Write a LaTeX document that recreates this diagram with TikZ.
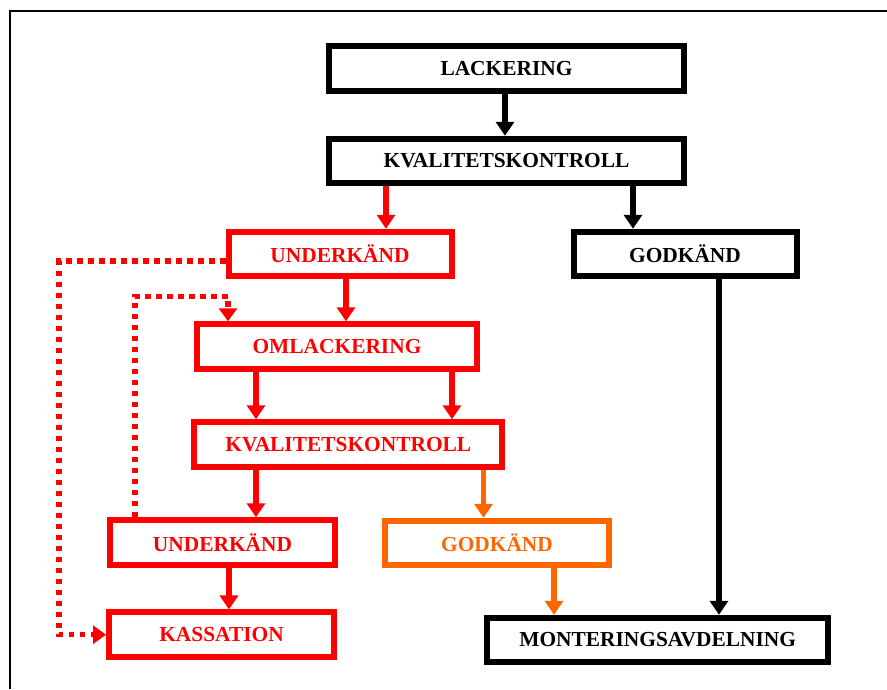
\documentclass[tikz,border=0pt]{standalone}
\usepackage{fontspec}
\setmainfont{Liberation Serif}
\usetikzlibrary{arrows.meta,calc}
\definecolor{flowred}{RGB}{255,0,0}
\definecolor{floworange}{RGB}{255,102,0}
\begin{document}
\begin{tikzpicture}[x=1pt,y=-1pt,
  box/.style={draw, line width=6pt, minimum height=44.5pt, inner sep=0pt,
    fill=white, font=\fontsize{21.4}{25}\selectfont\bfseries},
  blackbox/.style={box, draw=black, text=black},
  redbox/.style={box, draw=flowred, text=flowred},
  orangebox/.style={box, draw=floworange, text=floworange},
  link/.style={line width=5.5pt, -{Triangle[width=18pt,length=14pt]}},
  blacklink/.style={link, draw=black},
  redlink/.style={link, draw=flowred},
  orangelink/.style={link, draw=floworange},
  dotlink/.style={redlink, dash pattern=on 5.5pt off 5.5pt,
    -{Triangle[width=18pt,length=13pt]}},
]
\useasboundingbox (0,0) rectangle (887,689);
% outer frame
\draw[line width=2pt] (10,689) -- (10,11) -- (887,11);

% process steps
\node[blackbox, minimum width=355pt] (lack) at (506.5,68.5) {LACKERING};
\node[blackbox, minimum width=355pt] (kk1) at (506.5,161) {KVALITETSKONTROLL};
\node[redbox, minimum width=223pt] (u1) at (340,254) {UNDERKÄND};
\node[blackbox, minimum width=223pt] (g1) at (685,254) {GODKÄND};
\node[redbox, minimum width=280pt] (oml) at (337,346.5) {OMLACKERING};
\node[redbox, minimum width=308pt] (kk2) at (348.3,444.5) {KVALITETSKONTROLL};
\node[redbox, minimum width=225pt] (u2) at (222.5,542.5) {UNDERKÄND};
\node[orangebox, minimum width=224pt] (g2) at (497,543) {GODKÄND};
\node[redbox, minimum width=225pt] (kass) at (221.5,634.7) {KASSATION};
\node[blackbox, minimum width=341pt] (mont) at (657.7,640) {MONTERINGSAVDELNING};

% main flow
\draw[blacklink] ([xshift=-1.5pt]lack.south) -- ([xshift=-1.5pt]lack.south |- kk1.north);
\draw[redlink] ([xshift=-120.5pt]kk1.south) -- ([xshift=-120.5pt]kk1.south |- u1.north);
\draw[blacklink] ([xshift=126.5pt]kk1.south) -- ([xshift=126.5pt]kk1.south |- g1.north);
\draw[redlink] ([xshift=6pt]u1.south) -- ([xshift=6pt]u1.south |- oml.north);
\draw[redlink] ([xshift=-81pt]oml.south) -- ([xshift=-81pt]oml.south |- kk2.north);
\draw[redlink] ([xshift=115pt]oml.south) -- ([xshift=115pt]oml.south |- kk2.north);
\draw[redlink] ([xshift=-92.3pt]kk2.south) -- ([xshift=-92.3pt]kk2.south |- u2.north);
\draw[orangelink] ([xshift=135.2pt]kk2.south) -- ([xshift=135.2pt]kk2.south |- g2.north);
\draw[redlink] ([xshift=6.5pt]u2.south) -- ([xshift=6.5pt]u2.south |- kass.north);
\draw[orangelink] ([xshift=57pt]g2.south) -- ([xshift=57pt]g2.south |- mont.north);
\draw[blacklink] ([xshift=34pt]g1.south) -- ([xshift=34pt]g1.south |- mont.north);

% return loops
\draw[dotlink] ([xshift=-87.5pt]u2.north) |- ([xshift=-109pt,yshift=25pt]oml.north)
  -- ([xshift=-109pt]oml.north);
\draw[dotlink] ([yshift=-7pt]u1.west) -| ([xshift=-47pt]kass.west) -- (kass.west);
\end{tikzpicture}
\end{document}
